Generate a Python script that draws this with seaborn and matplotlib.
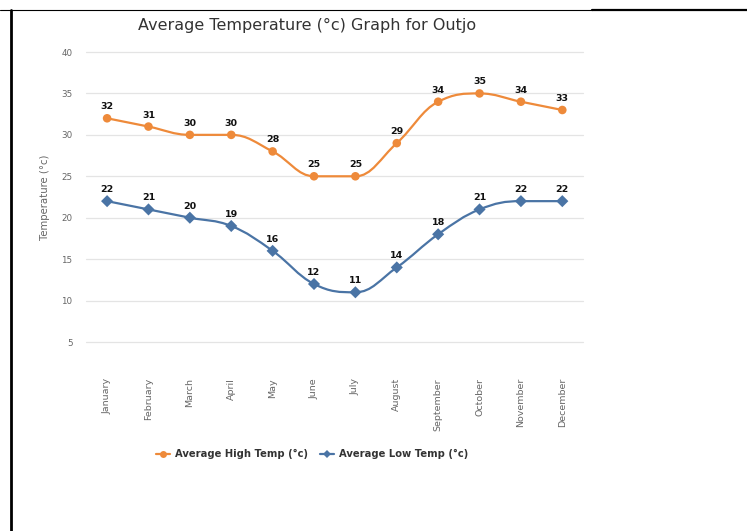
import matplotlib
matplotlib.use('Agg')
import matplotlib.pyplot as plt
from matplotlib.path import Path
from matplotlib.patches import PathPatch
from matplotlib.lines import Line2D
import numpy as np
import pandas as pd
import seaborn as sns

# Data
months = ['January', 'February', 'March', 'April', 'May', 'June', 'July',
          'August', 'September', 'October', 'November', 'December']
high_temp = [32, 31, 30, 30, 28, 25, 25, 29, 34, 35, 34, 33]
low_temp = [22, 21, 20, 19, 16, 12, 11, 14, 18, 21, 22, 22]
series_names = ['Average High Temp (°c)', 'Average Low Temp (°c)']
y_ticks = [5, 10, 15, 20, 25, 30, 35, 40]

ORANGE = '#EE8A3A'
BLUE = '#4A74A5'
palette = {series_names[0]: ORANGE, series_names[1]: BLUE}
marker_map = {series_names[0]: 'o', series_names[1]: 'D'}

df = pd.DataFrame({
    'idx': list(range(len(months))) * 2,
    'temp': high_temp + low_temp,
    'series': [series_names[0]] * len(months) + [series_names[1]] * len(months),
})


def spline_path(xs, ys, smoothing=1.5):
    # highcharts-like spline: cubic bezier with clamped control points
    n = len(xs)
    denom = smoothing + 1
    left = [None] * n
    right = [None] * n
    for i in range(1, n - 1):
        px, py = xs[i], ys[i]
        lx, ly = xs[i - 1], ys[i - 1]
        nx, ny = xs[i + 1], ys[i + 1]
        lcx = (smoothing * px + lx) / denom
        lcy = (smoothing * py + ly) / denom
        rcx = (smoothing * px + nx) / denom
        rcy = (smoothing * py + ny) / denom
        corr = (rcy - lcy) * (rcx - px) / (rcx - lcx) + py - rcy
        lcy += corr
        rcy += corr
        if lcy > ly and lcy > py:
            lcy = max(ly, py)
            rcy = 2 * py - lcy
        elif lcy < ly and lcy < py:
            lcy = min(ly, py)
            rcy = 2 * py - lcy
        if rcy > ny and rcy > py:
            rcy = max(ny, py)
            lcy = 2 * py - rcy
        elif rcy < ny and rcy < py:
            rcy = min(ny, py)
            lcy = 2 * py - rcy
        left[i] = (lcx, lcy)
        right[i] = (rcx, rcy)
    verts = [(xs[0], ys[0])]
    codes = [Path.MOVETO]
    for i in range(1, n):
        c1 = right[i - 1] if right[i - 1] is not None else (xs[i - 1], ys[i - 1])
        c2 = left[i] if left[i] is not None else (xs[i], ys[i])
        verts += [c1, c2, (xs[i], ys[i])]
        codes += [Path.CURVE4] * 3
    return Path(verts, codes)


sns.set_theme(style='white')
plt.rcParams['font.family'] = ['DejaVu Sans']

fig = plt.figure(figsize=(7.47, 5.31), dpi=100)
ax = fig.add_axes([86.4 / 747, 1 - 342 / 531, (583 - 86.4) / 747, (342 - 52) / 531])

# Smooth lines
for name, vals in zip(series_names, [high_temp, low_temp]):
    p = spline_path(list(range(len(vals))), vals)
    ax.add_patch(PathPatch(p, facecolor='none', edgecolor=palette[name], lw=1.6, zorder=3))

# Markers
sns.scatterplot(data=df, x='idx', y='temp', hue='series', style='series',
                palette=palette, markers=marker_map, s=38, linewidth=0,
                legend=False, ax=ax, zorder=4, clip_on=False)

# Data labels
for vals in [high_temp, low_temp]:
    for i, v in enumerate(vals):
        ax.annotate(str(v), (i, v), xytext=(0, 5), textcoords='offset points',
                    ha='center', va='bottom', fontsize=6.8, fontweight='bold',
                    color='#111111', zorder=5)

ax.set_xlim(-0.5, len(months) - 0.5)
ax.set_ylim(5, 40)
ax.set_yticks(y_ticks)
ax.set_xticks(range(len(months)))
ax.set_xticklabels(months, rotation=90, va='top', ha='center')
ax.tick_params(axis='x', length=0, pad=26, labelsize=6.8, labelcolor='#666666')
ax.tick_params(axis='y', length=0, pad=10, labelsize=6.3, labelcolor='#666666')
ax.grid(axis='y', color='#E4E4E4', lw=0.9)
ax.grid(axis='x', visible=False)
for gl in ax.get_ygridlines():
    gl.set_clip_on(False)
for s in ax.spines.values():
    s.set_visible(False)
ax.set_xlabel('')
ax.set_ylabel('Temperature (°c)', fontsize=7.3, color='#666666', labelpad=8)

fig.text(307 / 747, 1 - 25 / 531, 'Average Temperature (°c) Graph for Outjo',
         ha='center', va='center', fontsize=11.5, color='#333333')

handles = [Line2D([], [], color=palette[n], marker=marker_map[n], lw=1.6,
                  markersize=5 if marker_map[n] == 'o' else 4, markeredgewidth=0)
           for n in series_names]
leg = fig.legend(handles, series_names, loc='center', ncol=2,
                 bbox_to_anchor=(312 / 747, 1 - 454 / 531), frameon=False,
                 handlelength=1.4, handletextpad=0.5, columnspacing=1.2,
                 prop={'size': 7.2, 'weight': 'bold'})
for t in leg.get_texts():
    t.set_color('#333333')

# table borders around the chart screenshot
fig.add_artist(Line2D([0, 592 / 747], [1 - 9.5 / 531] * 2, color='black', lw=0.8))
fig.add_artist(Line2D([592 / 747, 1], [1 - 10 / 531] * 2, color='black', lw=1.6))
fig.add_artist(Line2D([10.5 / 747] * 2, [0, 1 - 9.5 / 531], color='black', lw=2))

fig.savefig('out.png', dpi=100, facecolor='white')
